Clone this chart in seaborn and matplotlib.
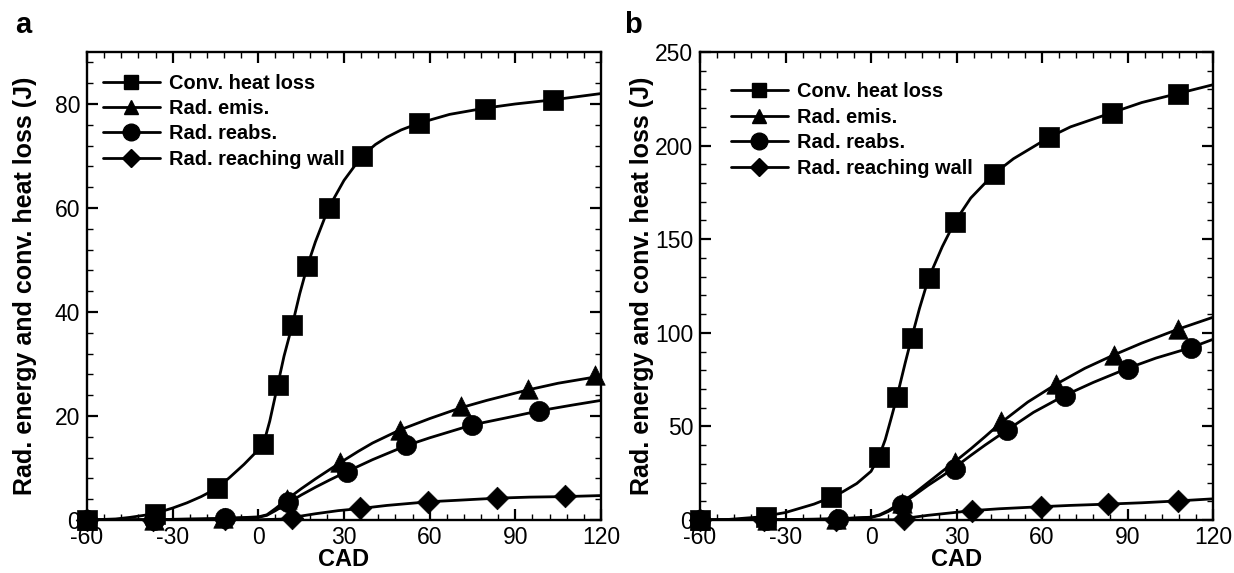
import numpy as np
import pandas as pd
import matplotlib
matplotlib.use("Agg")
import matplotlib.pyplot as plt
from matplotlib.lines import Line2D
from matplotlib.ticker import MultipleLocator
import seaborn as sns

# ---------------- data ----------------
labels = ["Conv. heat loss", "Rad. emis.", "Rad. reabs.", "Rad. reaching wall"]
markers = ["s", "^", "o", "D"]

# Panel a: curves
a_conv_x = [-60, -50, -45, -40, -36, -30, -25, -20, -14.5, -10, -5, 0, 1.8, 4, 6.8, 9, 11.9, 14.5, 17.2, 20, 24.6, 30, 36.3, 41, 45, 50, 56.2, 67, 79.4, 90, 103.3, 120]
a_conv_y = [0, 0.2, 0.5, 0.9, 1.3, 2.3, 3.3, 4.5, 6.1, 8.2, 10.7, 13.5, 14.6, 19.0, 26.0, 31.5, 37.5, 43.5, 48.9, 53.5, 60.0, 65.3, 70.0, 72.2, 73.6, 75.0, 76.3, 78.0, 79.2, 80.0, 80.8, 82.0]
a_emis_x = [-60, -40, -20, -12, 0, 3, 6, 10.1, 15, 20, 28.6, 35, 40, 49.5, 60, 71, 80, 94.3, 105, 118, 120]
a_emis_y = [0, 0.05, 0.2, 0.3, 0.6, 1.0, 2.2, 4.0, 6.0, 7.9, 11.0, 13.2, 14.8, 17.3, 19.5, 21.6, 23.0, 25.0, 26.3, 27.5, 27.7]
a_reabs_x = [-60, -40, -20, -11.7, 0, 3, 6, 10.5, 15, 20, 25, 31, 40, 51.8, 60, 75, 90, 98.4, 110, 120]
a_reabs_y = [0, 0.05, 0.2, 0.3, 0.5, 0.9, 1.8, 3.3, 4.8, 6.3, 7.7, 9.3, 11.6, 14.3, 15.8, 18.3, 20.0, 21.0, 22.1, 23.0]
a_wall_x = [-60, -30, 0, 10, 12, 20, 28, 35.6, 45, 59.5, 70, 83.6, 95, 107.5, 120]
a_wall_y = [0, 0, 0.05, 0.2, 0.5, 1.2, 1.8, 2.2, 2.8, 3.5, 3.8, 4.2, 4.4, 4.5, 4.7]
# Panel a: symbols
a_conv_mx = [-60, -36.1, -14.5, 1.8, 6.8, 11.9, 17.2, 24.6, 36.3, 56.2, 79.4, 103.3]
a_conv_my = [0, 1.1, 6.1, 14.6, 26.0, 37.5, 48.9, 60.0, 70.0, 76.3, 79.1, 80.8]
a_emis_mx = [-60, -36.5, -12.5, 10.1, 28.6, 49.5, 71.0, 94.3, 117.9]
a_emis_my = [0, 0, 0.3, 4.0, 11.2, 17.3, 21.9, 25.2, 27.8]
a_reabs_mx = [-60, -36.5, -11.7, 10.5, 31.0, 51.8, 74.9, 98.4]
a_reabs_my = [0, 0, 0.3, 3.5, 9.2, 14.5, 18.3, 21.0]
a_wall_mx = [-60, -36.8, -11.7, 11.9, 35.6, 59.5, 83.6, 107.5]
a_wall_my = [0, 0, 0.2, 0.4, 2.3, 3.5, 4.2, 4.6]

# Panel b: curves
b_conv_x = [-60, -50, -40, -36.7, -30, -20, -14, -10, -5, 0, 2.8, 5, 7, 9.05, 12, 14.2, 17, 20.2, 25, 29.3, 35, 43.2, 50, 62.6, 70, 84.4, 95, 107.7, 120]
b_conv_y = [0, 0.3, 1.5, 2.2, 4.0, 8.5, 12.1, 15.0, 19.5, 26.0, 33.8, 43.0, 54.0, 65.5, 84.0, 97.1, 113.0, 129.2, 146.0, 159.0, 172.0, 185.0, 193.0, 204.5, 210.0, 217.5, 223.0, 227.8, 232.5]
b_emis_x = [-60, -40, -20, -12, 0, 3, 6, 10.7, 15, 20, 25, 29.3, 35, 40, 45.6, 55, 64.9, 75, 85.1, 95, 107.7, 120]
b_emis_y = [0, 0.1, 0.4, 0.6, 1.5, 2.8, 5.0, 9.5, 14.0, 20.0, 26.0, 31.0, 38.0, 44.5, 52.0, 63.0, 72.5, 81.0, 88.1, 94.5, 101.9, 108.3]
b_reabs_x = [-60, -40, -20, -11.6, 0, 3, 6, 10.7, 15, 20, 25, 29.3, 35, 40, 47.7, 57, 67.9, 78, 90, 100, 112.1, 120]
b_reabs_y = [0, 0.1, 0.4, 0.6, 1.4, 2.5, 4.5, 8.5, 13.0, 18.5, 23.5, 28.0, 34.5, 40.0, 48.0, 57.5, 66.5, 73.5, 81.0, 86.5, 92.0, 96.5]
b_wall_x = [-60, -30, 0, 8, 10, 12, 15, 20, 28, 35.4, 45, 59.6, 70, 83.3, 95, 107.7, 120]
b_wall_y = [0, 0, 0.05, 0.1, 0.3, 0.8, 1.5, 2.5, 3.8, 5.0, 6.0, 7.1, 7.8, 8.5, 9.2, 10.2, 11.3]
# Panel b: symbols
b_conv_mx = [-60, -36.7, -14.0, 2.8, 9.05, 14.2, 20.2, 29.3, 43.2, 62.6, 84.4, 107.7]
b_conv_my = [0, 1.8, 12.1, 33.8, 65.5, 97.1, 129.2, 159.0, 185.0, 204.5, 217.5, 227.8]
b_emis_mx = [-60, -36.5, -12.3, 10.7, 29.3, 45.6, 64.9, 85.1, 107.7]
b_emis_my = [0, 0, 0.6, 9.0, 31.0, 53.0, 72.5, 88.1, 101.9]
b_reabs_mx = [-60, -36.7, -11.6, 10.7, 29.3, 47.7, 67.9, 90.0, 112.1]
b_reabs_my = [0, 0, 0.6, 8.0, 27.5, 48.0, 66.5, 80.5, 92.0]
b_wall_mx = [-60, -37.4, -12.3, 11.7, 35.4, 59.6, 83.3, 107.7]
b_wall_my = [0, 0, 0, 0.3, 5.0, 7.2, 8.6, 10.2]

x_ticks = [-60, -30, 0, 30, 60, 90, 120]
a_yticks = [0, 20, 40, 60, 80]
b_yticks = [0, 50, 100, 150, 200, 250]
xlabel = "CAD"
ylabel = "Rad. energy and conv. heat loss (J)"

# ---------------- style ----------------
sns.set_style("ticks")
plt.rcParams["font.family"] = ["Liberation Sans", "DejaVu Sans"]
plt.rcParams["text.color"] = "black"
plt.rcParams["axes.labelcolor"] = "black"
plt.rcParams["xtick.color"] = "black"
plt.rcParams["ytick.color"] = "black"
plt.rcParams["axes.edgecolor"] = "black"

fig = plt.figure(figsize=(12.34, 5.73), dpi=100)
ax_a = fig.add_axes([0.0705, 0.0925, 0.4165, 0.8168])
ax_b = fig.add_axes([0.5673, 0.0925, 0.4157, 0.8168])

msizes = {"s": 14, "^": 14, "o": 14.5, "D": 11.5}


def draw_panel(ax, curves, syms, yticks, ylim, yminor, leg_anchor, ylab_x):
    for (cx, cy), (mx, my), mk in zip(curves, syms, markers):
        sns.lineplot(x=cx, y=cy, ax=ax, color="black", linewidth=2.0,
                     estimator=None, sort=False, zorder=2)
        sns.scatterplot(x=mx, y=my, ax=ax, marker=mk, s=msizes[mk] ** 2,
                        color="black", edgecolor="black", linewidth=0.5,
                        zorder=3, clip_on=False)
    ax.set_xlim(-60, 120)
    ax.set_ylim(*ylim)
    ax.set_xticks(x_ticks)
    ax.set_xticklabels([str(t) for t in x_ticks])
    ax.set_yticks(yticks)
    ax.set_yticklabels([str(t) for t in yticks])
    ax.xaxis.set_minor_locator(MultipleLocator(6))
    ax.yaxis.set_minor_locator(MultipleLocator(yminor))
    ax.tick_params(which="both", direction="in", top=True, right=True,
                   labelsize=16.5, colors="black", labelcolor="black")
    ax.tick_params(which="major", length=8, width=1.6)
    ax.tick_params(which="minor", length=4, width=1.0)
    ax.tick_params(axis="x", pad=4)
    ax.tick_params(axis="y", pad=5)
    for sp in ax.spines.values():
        sp.set_linewidth(1.7)
        sp.set_color("black")
        sp.set_visible(True)
    ax.set_xlabel(xlabel, fontsize=17, fontweight="bold", color="black")
    ax.set_ylabel(ylabel, fontsize=18, fontweight="bold", color="black")
    ax.xaxis.set_label_coords(0.5, -0.06)
    ax.yaxis.set_label_coords(ylab_x, 0.5)
    handles = [Line2D([0], [0], color="black", lw=2.0, marker=mk,
                      markersize={"s": 10, "^": 10.5, "o": 12, "D": 9}[mk],
                      markerfacecolor="black", markeredgecolor="black")
               for mk in markers]
    leg = ax.legend(handles, labels, loc="upper left", bbox_to_anchor=leg_anchor,
                    frameon=False, borderaxespad=0, borderpad=0,
                    handlelength=2.85, handletextpad=0.45, labelspacing=0.32,
                    prop={"weight": "bold", "size": 14.4})
    for t in leg.get_texts():
        t.set_color("black")
    return leg


draw_panel(ax_a,
           [(a_conv_x, a_conv_y), (a_emis_x, a_emis_y), (a_reabs_x, a_reabs_y), (a_wall_x, a_wall_y)],
           [(a_conv_mx, a_conv_my), (a_emis_mx, a_emis_my), (a_reabs_mx, a_reabs_my), (a_wall_mx, a_wall_my)],
           a_yticks, (0, 90), 4, (0.031, 0.954), -0.097)
draw_panel(ax_b,
           [(b_conv_x, b_conv_y), (b_emis_x, b_emis_y), (b_reabs_x, b_reabs_y), (b_wall_x, b_wall_y)],
           [(b_conv_mx, b_conv_my), (b_emis_mx, b_emis_my), (b_reabs_mx, b_reabs_my), (b_wall_mx, b_wall_my)],
           b_yticks, (0, 250), 10, (0.06, 0.935), -0.09)

fig.text(0.012, 1 - 33 / 573, "a", fontsize=21, fontweight="bold", ha="left", va="baseline", color="black")
fig.text(0.506, 1 - 33 / 573, "b", fontsize=21, fontweight="bold", ha="left", va="baseline", color="black")

fig.savefig("out.png", dpi=100)
